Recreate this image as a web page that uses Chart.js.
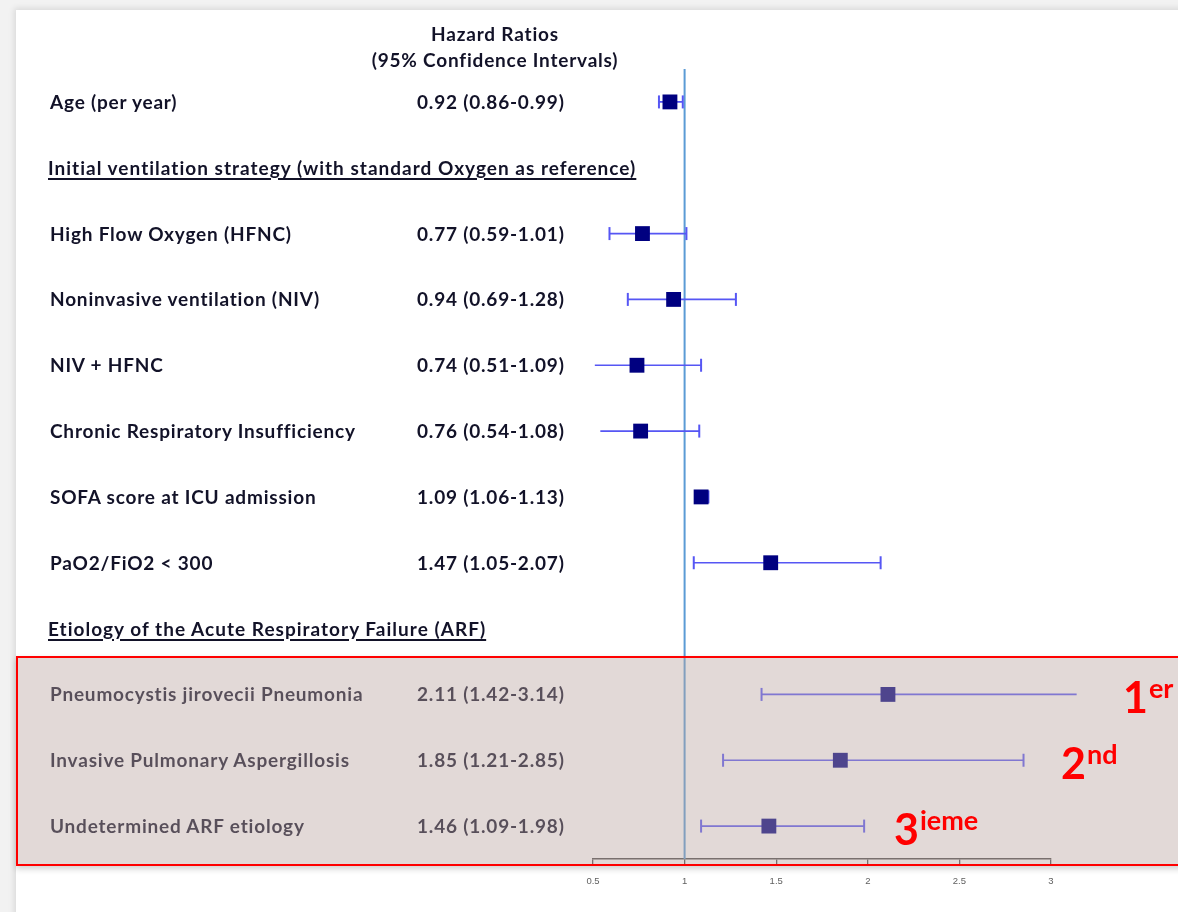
<!DOCTYPE html>
<html>
<head>
<meta charset="utf-8">
<script src="https://cdn.jsdelivr.net/npm/chart.js@4/dist/chart.umd.min.js"></script>
<style>
  html, body { margin: 0; padding: 0; }
  body { width: 1178px; height: 912px; position: relative; overflow: hidden; background: #f2f2f2; }
  #sheet { position: absolute; left: 16px; top: 10px; right: -20px; bottom: -20px; background: #fff;
           box-shadow: -2px -2px 6px rgba(0,0,0,0.10); }
  #plot { position: absolute; left: 0; top: 0; }
  .lbl { position: absolute; white-space: nowrap; font-family: Lato, "Open Sans", sans-serif; font-weight: 700;
         font-size: 19px; letter-spacing: 0.8px; line-height: 24px; color: #121228; }
  .hdr { letter-spacing: 1.02px; text-decoration: underline; text-decoration-thickness: 1.6px; text-underline-offset: 3px; }
  .title { position: absolute; left: 290px; width: 410px; text-align: center; font-family: Lato, "Open Sans", sans-serif;
           font-weight: 700; font-size: 19px; letter-spacing: 0.8px; line-height: 24px; color: #121228; }
  #highlight { position: absolute; left: 16px; top: 656px; width: 1180px; height: 206px;
               border: 2px solid #ff0000; background: rgba(185,165,160,0.42);
               box-shadow: 0 3px 6px rgba(0,0,0,0.18); }
  .rank { position: absolute; font-family: Lato, "Open Sans", sans-serif; font-weight: 700; color: #ff0000;
          font-size: 43px; line-height: 42px; white-space: nowrap; }
  .rank sup { font-size: 27px; vertical-align: 0; position: relative; top: -15px; margin-left: 1px; }
</style>
</head>
<body>
<div id="sheet"></div>
<canvas id="plot" width="1178" height="912"></canvas>
<div class="title" style="top:22px;">Hazard Ratios</div>
<div class="title" style="top:48px;">(95% Confidence Intervals)</div>
<div id="labels"></div>
<div id="highlight"></div>
<div class="rank" style="left:1123px; top:676px;">1<sup>er</sup></div>
<div class="rank" style="left:1061px; top:742px;">2<sup>nd</sup></div>
<div class="rank" style="left:894px; top:808px;">3<sup>ieme</sup></div>
<script>
// Rows of the forest plot, top to bottom (section headings carry no estimate)
const rowLabels = [
  'Age (per year)',
  'Initial ventilation strategy (with standard Oxygen as reference)',
  'High Flow Oxygen (HFNC)',
  'Noninvasive ventilation (NIV)',
  'NIV + HFNC',
  'Chronic Respiratory Insufficiency',
  'SOFA score at ICU admission',
  'PaO2/FiO2 < 300',
  'Etiology of the Acute Respiratory Failure (ARF)',
  'Pneumocystis jirovecii Pneumonia',
  'Invasive Pulmonary Aspergillosis',
  'Undetermined ARF etiology'
];
const headingRows = [1, 8];
const hazardRatio = [0.92, null, 0.77, 0.94, 0.74, 0.76, 1.09, 1.47, null, 2.11, 1.85, 1.46];
const ciLow       = [0.86, null, 0.59, 0.69, 0.51, 0.54, 1.06, 1.05, null, 1.42, 1.21, 1.09];
const ciHigh      = [0.99, null, 1.01, 1.28, 1.09, 1.08, 1.13, 2.07, null, 3.14, 2.85, 1.98];
// rows whose lower whisker ends without a cap
const openLowEnd  = [4, 5];
const xTicks = [0.5, 1, 1.5, 2, 2.5, 3];
const referenceHR = 1;

const whiskerColor = '#5656f4';
const markerColor = '#000080';

const whiskerPts = [];
const capPts = [];
const markerPts = [];
hazardRatio.forEach((hr, i) => {
  if (hr === null) return;
  whiskerPts.push({ x: ciLow[i], y: i }, { x: ciHigh[i], y: i }, { x: null, y: null });
  if (!openLowEnd.includes(i)) capPts.push({ x: ciLow[i], y: i });
  capPts.push({ x: ciHigh[i], y: i });
  markerPts.push({ x: hr, y: i });
});

const chart = new Chart(document.getElementById('plot'), {
  type: 'scatter',
  data: {
    datasets: [
      { label: 'HR', data: markerPts, order: 0, pointStyle: 'rect', pointRadius: 10.5,
        backgroundColor: markerColor, borderWidth: 0, clip: false },
      { label: 'CI caps', data: capPts, order: 1, pointStyle: 'line', rotation: 90, pointRadius: 6.5,
        borderColor: whiskerColor, borderWidth: 2, clip: false },
      { type: 'line', label: 'CI', data: whiskerPts, order: 2, borderColor: whiskerColor, borderWidth: 1.6,
        pointRadius: 0, spanGaps: false, clip: false },
      { type: 'line', label: 'No effect', order: 3,
        data: [{ x: referenceHR, y: -0.5 }, { x: referenceHR, y: rowLabels.length - 0.5 }],
        borderColor: '#5b9bd5', borderWidth: 2, pointRadius: 0, clip: false }
    ]
  },
  options: {
    responsive: false,
    animation: false,
    devicePixelRatio: 1,
    layout: { padding: { left: 593, right: 127, top: 69, bottom: 13 } },
    plugins: { legend: { display: false }, tooltip: { enabled: false } },
    scales: {
      x: {
        type: 'linear', min: xTicks[0], max: xTicks[xTicks.length - 1],
        afterBuildTicks: (s) => { s.ticks = xTicks.map(v => ({ value: v })); },
        afterFit: (s) => { s.height = 40; },
        grid: { drawOnChartArea: false, drawTicks: true, tickLength: 7, color: '#4a4a4a', lineWidth: 1.3 },
        border: { display: true, color: '#4a4a4a', width: 1.6 },
        ticks: { callback: (v) => String(v), font: { family: 'Liberation Sans', size: 9.5 }, color: '#606060',
                 padding: 10, maxRotation: 0, autoSkip: false }
      },
      y: {
        type: 'linear', min: -0.5, max: rowLabels.length - 0.5, reverse: true, display: false
      }
    }
  }
});

// Row captions and estimate text, aligned on the chart's row scale
const yScale = chart.scales.y;
const box = document.getElementById('labels');
rowLabels.forEach((name, i) => {
  const y = yScale.getPixelForValue(i);
  const a = document.createElement('div');
  a.className = 'lbl' + (headingRows.includes(i) ? ' hdr' : '');
  a.style.left = (headingRows.includes(i) ? 48 : 50) + 'px';
  a.style.top = (y - 12) + 'px';
  a.textContent = name;
  box.appendChild(a);
  if (hazardRatio[i] !== null) {
    const b = document.createElement('div');
    b.className = 'lbl';
    b.style.left = '417px';
    b.style.top = (y - 12) + 'px';
    b.textContent = hazardRatio[i].toFixed(2) + ' (' + ciLow[i].toFixed(2) + '-' + ciHigh[i].toFixed(2) + ')';
    box.appendChild(b);
  }
});
</script>
</body>
</html>
